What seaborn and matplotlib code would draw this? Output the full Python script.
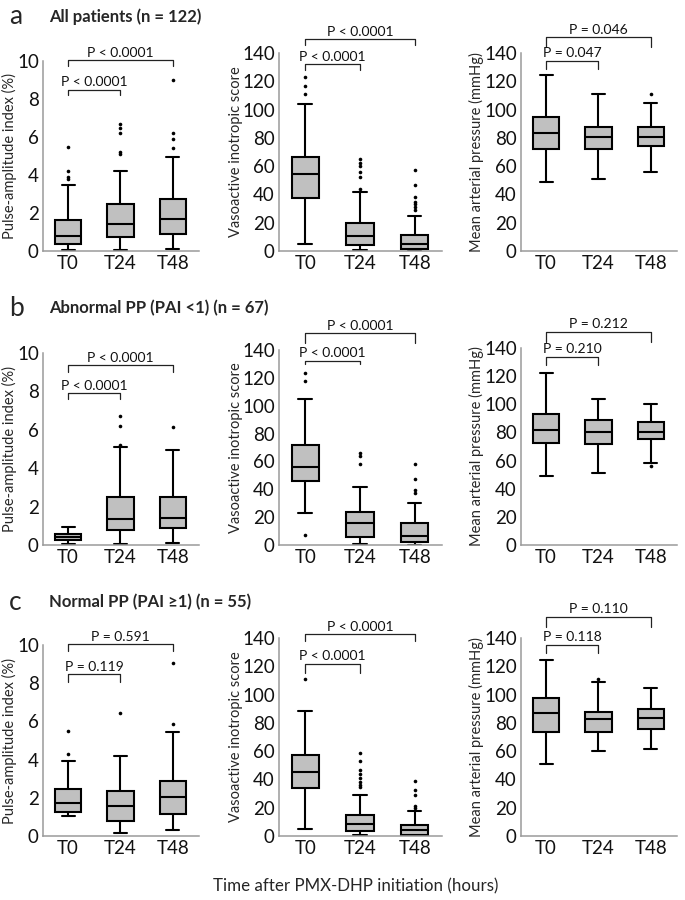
"""Box plots of PAI, VIS and MAP after PMX-DHP initiation, by patient group."""
import matplotlib.pyplot as plt
import numpy as np
import pandas as pd
import seaborn as sns


groups = ["T0", "T24", "T48"]

# five-number summaries per time point: [low whisker, Q1, median, Q3, high whisker]
pai_all = [[0.05, 0.39, 0.77, 1.65, 3.5], [0.04, 0.74, 1.44, 2.49, 4.2], [0.09, 0.91, 1.7, 2.72, 4.95]]
pai_all_out = [[3.8, 3.9, 4.2, 5.5], [5.1, 5.2, 6.2, 6.5, 6.7], [5.4, 5.9, 6.2, 9.0]]
vis_all = [[4.7, 37.8, 54.2, 66.2, 104], [0.5, 4.5, 10.4, 20.1, 42], [0, 1.2, 5, 11.1, 25.1]]
vis_all_out = [[110.7, 116.8, 123], [44, 52.5, 56, 60, 62.5, 65], [29, 31, 33, 35, 38, 47, 57]]
map_all = [[48.5, 72.4, 83.2, 95.1, 124.6], [50.6, 72.4, 80.6, 88, 110.9], [55.8, 74.5, 80.9, 88, 104.5]]
map_all_out = [[], [], [111.1]]

pai_abn = [[0.05, 0.26, 0.43, 0.55, 0.95], [0.05, 0.78, 1.37, 2.51, 5.08], [0.09, 0.9, 1.4, 2.51, 4.94]]
pai_abn_out = [[], [5.2, 6.19, 6.71], [6.15]]
vis_abn = [[22.7, 45.9, 56.2, 71.5, 104.8], [0.7, 5.7, 15.6, 23.9, 41.9], [0, 2.4, 6.7, 15.6, 30.4]]
vis_abn_out = [[7.2, 117.5, 123.2], [58.1, 63.9, 65.8], [37.6, 39.5, 47.4, 58.1]]
map_abn = [[48.9, 72.5, 81.6, 92.9, 122.4], [51.1, 71.8, 80, 88.7, 103.5], [58, 75.1, 80, 87.1, 100]]
map_abn_out = [[], [], [56.3]]

pai_nor = [[1.05, 1.26, 1.74, 2.45, 3.94], [0.17, 0.8, 1.59, 2.37, 4.2], [0.3, 1.14, 2.05, 2.88, 5.45]]
pai_nor_out = [[4.29, 5.5], [6.45], [5.84, 9.04]]
vis_nor = [[4.7, 33.6, 45.4, 57.2, 88.3], [0.5, 3.5, 8.5, 15.1, 29.3], [0, 1, 4, 8, 17.5]]
vis_nor_out = [[111], [34.8, 36.4, 38.3, 41.1, 43.5, 46.6, 53, 58.9], [19.9, 21.3, 29.3, 32.4, 39]]
map_nor = [[50.8, 73.3, 87.3, 97.4, 124.6], [60.3, 73.8, 82.8, 88, 108.8], [61.5, 75.7, 83.2, 89.9, 104.5]]
map_nor_out = [[], [111.1], []]

row_letters = ["a", "b", "c"]
row_titles = ["All patients (n = 122)", "Abnormal PP (PAI <1) (n = 67)", "Normal PP (PAI \u22651) (n = 55)"]

pvals = [
    [["P < 0.0001", "P < 0.0001"], ["P < 0.0001", "P < 0.0001"], ["P = 0.047", "P = 0.046"]],
    [["P < 0.0001", "P < 0.0001"], ["P < 0.0001", "P < 0.0001"], ["P = 0.210", "P = 0.212"]],
    [["P = 0.119", "P = 0.591"], ["P < 0.0001", "P < 0.0001"], ["P = 0.118", "P = 0.110"]],
]

ylabels = ["Pulse-amplitude index (%)", "Vasoactive inotropic score", "Mean arterial pressure (mmHg)"]
yticks = [np.arange(0, 11, 2), np.arange(0, 141, 20), np.arange(0, 141, 20)]

panels = [
    [(pai_all, pai_all_out), (vis_all, vis_all_out), (map_all, map_all_out)],
    [(pai_abn, pai_abn_out), (vis_abn, vis_abn_out), (map_abn, map_abn_out)],
    [(pai_nor, pai_nor_out), (vis_nor, vis_nor_out), (map_nor, map_nor_out)],
]

# axes rectangles in pixels: left, right, top, bottom
W, H = 685, 900
rects = [
    [(43, 199, 61, 251), (279, 442, 53, 251), (521, 677, 53, 251)],
    [(43, 199, 353, 545), (279, 442, 350, 545), (521, 677, 348, 545)],
    [(43, 199, 645, 836), (279, 442, 638, 836), (521, 677, 638, 836)],
]
# y-label centre, in pixels left of the axis line, per column
ylabel_offset = [34, 43, 45]
# bracket heights in axes fraction: short top, short leg, long top, long leg
bracket_y = [
    [(0.85, 0.82, 1.005, 0.975), (0.943, 0.914, 1.07, 1.04), (0.96, 0.92, 1.08, 1.03)],
    [(0.79, 0.76, 0.937, 0.903), (0.945, 0.928, 1.086, 1.037), (0.956, 0.914, 1.083, 1.032)],
    [(0.847, 0.805, 1.004, 0.969), (0.869, 0.822, 1.019, 0.985), (0.965, 0.923, 1.108, 1.057)],
]
row_title_y = [17, 308, 602]

BOX_FILL = "#c0c0c0"
SPINE = "#9a9a9a"

sns.set_style("ticks")
plt.rcParams["font.family"] = ["Lato", "DejaVu Sans"]


def draw_panel(ax, summary, outliers, ticks, ylabel, labels, bys, label_dx):
    """Draw one box plot panel with its significance brackets."""
    box_df = pd.DataFrame(
        [(g, v) for g, vals in zip(groups, summary) for v in vals], columns=["time", "value"]
    )
    out_df = pd.DataFrame(
        [(g, v) for g, vals in zip(groups, outliers) for v in vals], columns=["time", "value"]
    )
    sns.boxplot(
        data=box_df, x="time", y="value", order=groups, whis=(0, 100), showfliers=False,
        width=0.5, color=BOX_FILL, saturation=1, linecolor="black", linewidth=1.5, ax=ax,
    )
    if len(out_df):
        sns.stripplot(
            data=out_df, x="time", y="value", order=groups, jitter=False,
            color="black", size=2.6, linewidth=0, ax=ax,
        )

    ax.set_xlim(-0.48, 2.5)
    ax.set_ylim(0, ticks[-1])
    ax.set_yticks(ticks)
    ax.set_xlabel("")
    ax.set_ylabel(ylabel, fontsize=10.5)
    ax.yaxis.label.set_verticalalignment("center")
    ax.yaxis.set_label_coords(label_dx, 0.5)
    ax.tick_params(length=0, labelsize=13.5, colors="#111111", pad=3)
    sns.despine(ax=ax)
    for side in ["left", "bottom"]:
        ax.spines[side].set_color(SPINE)
        ax.spines[side].set_linewidth(1.1)

    trans = ax.get_xaxis_transform()
    short_top, short_leg, long_top, long_leg = bys
    for (x1, top, leg), label in zip([(1, short_top, short_leg), (2, long_top, long_leg)], labels):
        ax.plot([0, 0, x1, x1], [leg, top, top, leg], color="#222222", lw=0.9,
                transform=trans, clip_on=False)
        ax.text(x1 / 2, top + 0.008, label, ha="center", va="bottom", fontsize=10,
                transform=trans, color="#111111")


fig = plt.figure(figsize=(W / 100, H / 100), dpi=100)

for r in range(3):
    for c in range(3):
        left, right, top, bottom = rects[r][c]
        ax = fig.add_axes([left / W, 1 - bottom / H, (right - left) / W, (bottom - top) / H])
        summary, outliers = panels[r][c]
        draw_panel(ax, summary, outliers, yticks[c], ylabels[c], pvals[r][c], bracket_y[r][c],
                   -ylabel_offset[c] / (right - left))
    fig.text(9 / W, 1 - row_title_y[r] / H, row_letters[r], fontsize=19, va="center", ha="left")
    fig.text(49 / W, 1 - row_title_y[r] / H, row_titles[r], fontsize=12, fontweight="bold",
             va="center", ha="left")

fig.text(356 / W, 1 - 886 / H, "Time after PMX-DHP initiation (hours)", fontsize=12.2,
         ha="center", va="center")

fig.savefig("out.png", dpi=100)
